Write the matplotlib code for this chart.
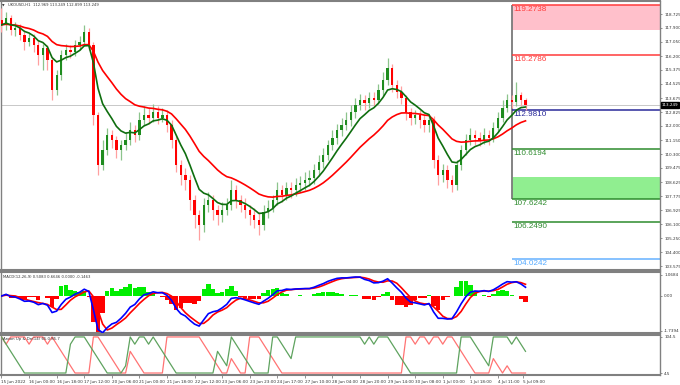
import numpy as np
import pandas as pd
import matplotlib
matplotlib.use("Agg")
import matplotlib.pyplot as plt
from matplotlib.patches import Rectangle
import matplotlib.transforms as mtransforms

# ---------------- data (3-hour resampled view of the H1 chart) ----------------
first_open = 118.37
closes = [118.07,118.49,117.77,117.89,117.47,117.05,117.29,116.87,116.27,116.69,
          115.97,114.17,115.07,116.27,116.57,116.45,116.87,117.05,117.65,116.87,
          112.67,109.67,110.57,111.47,111.17,110.57,110.87,111.17,111.77,111.47,
          112.37,112.67,112.49,112.85,112.49,112.67,112.07,111.17,109.67,109.07,
          108.77,107.57,106.67,106.07,107.27,107.57,106.97,106.67,106.97,107.27,
          108.17,107.57,107.27,106.97,106.67,106.37,106.07,106.85,107.09,107.57,
          108.17,107.87,108.29,108.17,108.47,108.59,108.77,108.89,109.37,109.85,
          110.27,110.87,111.29,111.77,112.07,112.37,112.85,113.27,113.57,113.39,
          113.69,113.57,114.17,114.77,115.49,114.47,114.05,113.69,112.85,112.49,
          112.67,112.37,112.07,112.37,109.97,109.07,109.37,108.77,108.47,109.67,
          110.57,111.17,111.47,111.29,111.17,111.47,111.29,111.89,112.49,113.09,
          113.57,113.45,113.87,113.57,113.25]
highs = [119.09,118.85,118.67,118.25,118.13,117.77,117.59,117.53,117.17,116.93,
         116.87,116.09,115.37,116.57,116.93,116.87,117.17,117.41,118.07,117.89,
         117.05,112.85,111.17,111.89,111.77,111.41,111.17,111.65,112.25,112.07,
         112.85,113.21,113.09,113.33,113.21,113.09,112.97,112.37,111.47,109.97,
         109.49,109.07,107.87,106.97,107.69,108.05,107.87,107.27,107.45,107.69,
         108.77,108.47,107.87,107.69,107.27,107.09,106.85,107.27,107.57,107.87,
         108.65,108.47,108.65,108.65,108.89,109.01,109.25,109.37,109.73,110.27,
         110.69,111.17,111.77,112.13,112.49,112.85,113.27,113.69,113.93,113.87,
         114.05,114.05,114.53,115.25,116.09,115.73,114.77,114.41,113.87,113.09,
         112.97,112.97,112.73,112.67,112.61,110.27,109.73,109.67,109.07,109.97,
         110.87,111.53,111.89,111.77,111.65,111.89,111.77,112.25,112.85,113.57,
         113.93,113.87,114.65,114.05,113.69]
lows = [117.65,117.77,117.47,117.41,117.17,116.57,116.81,116.45,115.67,115.37,
        115.37,113.57,113.87,114.77,115.97,116.09,116.21,116.57,116.81,116.57,
        112.07,109.07,109.37,110.27,110.69,110.09,109.97,110.57,110.87,111.05,
        111.17,112.07,112.13,112.25,112.13,112.25,111.65,110.69,109.25,108.47,
        108.17,106.97,105.89,105.17,105.65,106.85,106.37,106.07,106.25,106.67,
        106.97,107.09,106.85,106.49,106.07,105.89,105.47,105.77,106.49,106.85,
        107.27,107.45,107.57,107.69,107.81,108.05,108.17,108.41,108.53,109.01,
        109.49,109.97,110.57,110.93,111.41,111.77,112.01,112.49,112.97,112.97,
        113.09,113.21,113.33,113.81,114.47,114.05,113.69,113.33,112.37,112.07,
        112.13,111.89,111.65,111.65,109.49,108.47,108.65,108.29,108.05,108.17,
        109.37,110.27,110.87,110.87,110.81,110.93,110.87,111.05,111.65,112.25,
        112.85,113.09,113.21,113.21,112.97]

# horizontal levels drawn on the chart
level_values = [119.2738, 116.2786, 112.9810, 110.6194, 107.6242, 106.2490, 104.0242]
level_colors = ["#ff3b3b", "#ff3b3b", "#2a2a9a", "#2e8b2e", "#2e8b2e", "#2e8b2e", "#66b2ff"]
text_colors  = ["#ff3b3b", "#ff3b3b", "#2a2a9a", "#2e8b2e", "#2e8b2e", "#2e8b2e", "#55aaff"]
sell_zone = (117.78, 119.2738)
buy_zone = (107.6242, 108.95)
current_price = 113.249

price_ticks = [118.725, 117.900, 117.050, 116.200, 115.375, 114.525, 113.675, 112.825,
               112.000, 111.150, 110.300, 109.475, 108.625, 107.775, 106.925, 106.100,
               105.250, 104.400, 103.575]
date_tick_bars = [0, 6, 12, 18, 24, 30, 36, 42, 48, 54, 60, 66, 72, 78, 84, 90, 96, 102, 108, 113.5]
date_labels = ["15 Jun 2022", "16 Jun 00:00", "16 Jun 18:00", "17 Jun 12:00", "20 Jun 06:00",
               "21 Jun 00:00", "21 Jun 18:00", "22 Jun 12:00", "23 Jun 06:00", "23 Jun 23:00",
               "24 Jun 17:00", "27 Jun 10:00", "28 Jun 04:00", "28 Jun 20:00", "29 Jun 14:00",
               "30 Jun 08:00", "1 Jul 00:00", "1 Jul 18:00", "4 Jul 11:00", "5 Jul 09:00"]
macd_range = (-1.7394, 1.0684)
aroon_range = (4.5, 104.5)

# ---------------- derived series ----------------
closes_s = pd.Series(closes)
opens = [first_open] + closes[:-1]
n = len(closes)
x = np.arange(n)

ma_fast = closes_s.ewm(span=7, adjust=False).mean()
ma_slow = closes_s.ewm(span=20, adjust=False).mean()

macd_main = closes_s.ewm(span=4, adjust=False).mean() - closes_s.ewm(span=9, adjust=False).mean()
macd_sig = macd_main.rolling(3, min_periods=1).mean()
macd_hist = 2.0 * (macd_main - macd_sig)

period = 5
hs = pd.Series(highs); ls = pd.Series(lows)
aroon_up = hs.rolling(period + 1, min_periods=1).apply(lambda a: 100.0 * (period - (len(a) - 1 - np.argmax(a))) / period, raw=True)
aroon_dn = ls.rolling(period + 1, min_periods=1).apply(lambda a: 100.0 * (period - (len(a) - 1 - np.argmin(a))) / period, raw=True)

# ---------------- layout ----------------
W, H = 680, 385
fig = plt.figure(figsize=(W / 100, H / 100), dpi=100)
fig.patch.set_facecolor("white")

def rect(x0, y0, x1, y1):
    return [x0 / W, 1 - y1 / H, (x1 - x0) / W, (y1 - y0) / H]

RIGHT = 660
ax = fig.add_axes(rect(0.5, 1, RIGHT, 270))
axm = fig.add_axes(rect(0.5, 271.5, RIGHT, 333), sharex=ax)
axa = fig.add_axes(rect(0.5, 334.5, RIGHT, 375), sharex=ax)

bar_px = 4.6
xmin = -1 / bar_px
xmax = (RIGHT - 1) / bar_px
level_start = (512 - 1) / bar_px

for a in (ax, axm, axa):
    a.set_facecolor("white")
    for s in a.spines.values():
        s.set_color("#808080")
        s.set_linewidth(1.0)
    a.spines["bottom"].set_linewidth(1.5)
    a.spines["top"].set_linewidth(1.5)
    a.set_xlim(xmin, xmax)
    a.tick_params(axis="x", which="both", bottom=False, labelbottom=False)
    a.yaxis.tick_right()
    a.tick_params(axis="y", direction="out", length=1.5, width=0.6, color="#808080",
                  labelsize=3.0, pad=1.5, labelcolor="#333333")

# ---- main price panel ----
ax.set_ylim(103.347, 119.506)
ax.set_yticks(price_ticks)
ax.set_yticklabels([f"{v:.3f}" for v in price_ticks])

ax.axhline(current_price, color="#c8c8c8", lw=0.7, zorder=1)

ax.add_patch(Rectangle((level_start, sell_zone[0]), xmax - level_start, sell_zone[1] - sell_zone[0],
                       facecolor="#ffc0cb", edgecolor="none", zorder=1))
ax.add_patch(Rectangle((level_start, buy_zone[0]), xmax - level_start, buy_zone[1] - buy_zone[0],
                       facecolor="#90ee90", edgecolor="none", zorder=1))
ax.vlines(level_start, buy_zone[0], sell_zone[1], color="#7a7a7a", lw=1.3, zorder=2)

txt_off = mtransforms.offset_copy(ax.transData, fig=fig, x=1.5, y=-1.5, units="dots")
for v, lc, tc in zip(level_values, level_colors, text_colors):
    ax.hlines(v, level_start, xmax, color=lc, lw=1.1, zorder=2)
    ax.text(level_start, v, f"{v:.4f}", color=tc, fontsize=5.9, va="top", ha="left",
            family=["Liberation Sans", "DejaVu Sans"], transform=txt_off, zorder=5)

# candles
up = np.array(closes) >= np.array(opens)
wick_cols = np.where(up, "#8cc48c", "#ffa0a0")
body_cols = np.where(up, "#1e8c1e", "#ff0000")
ax.vlines(x, lows, highs, colors=wick_cols, lw=0.9, zorder=3)
body_bottom = np.minimum(opens, closes)
body_h = np.maximum(np.abs(np.array(closes) - np.array(opens)), 0.03)
ax.bar(x, body_h, bottom=body_bottom, width=0.5, color=body_cols, edgecolor="none", zorder=4)

ax.plot(x, ma_slow, color="#ff0000", lw=1.2, zorder=6)
ax.plot(x, ma_fast, color="#0f6e0f", lw=1.2, zorder=6)

ax.text(0.003, 0.99, "\u25bc", transform=ax.transAxes, fontsize=2.4, va="top", ha="left", color="#333333")
ax.text(0.011, 0.993, "UKOUSD,H1  112.969 113.249 112.899 113.249", transform=ax.transAxes,
        fontsize=2.7, va="top", ha="left", color="#333333")

# current price marker on the axis
ax.text(1.003, current_price, f"{current_price:.3f}", transform=ax.get_yaxis_transform(),
        fontsize=3.0, color="white", va="center", ha="left",
        bbox=dict(boxstyle="square,pad=0.2", facecolor="black", edgecolor="black"))

# ---- MACD panel ----
axm.set_ylim(-1.839, 1.2175)
axm.set_yticks([macd_range[1], 0.0, macd_range[0]])
axm.set_yticklabels([f"{macd_range[1]:.4f}", "0.00", f"{macd_range[0]:.4f}"])
hist_cols = np.where(macd_hist >= 0, "#00ee00", "#ff0000")
axm.bar(x, macd_hist, width=0.95, color=hist_cols, edgecolor="none", zorder=2)
axm.plot(x, macd_sig, color="#ff0000", lw=1.2, zorder=3)
axm.plot(x, macd_main, color="#0000ff", lw=1.2, zorder=4)
axm.text(0.004, 0.95, "MACD(12,26,9) 0.5083 0.6646 0.0000 -0.1463", transform=axm.transAxes,
         fontsize=2.7, va="top", ha="left", color="#333333")

# ---- Aroon panel ----
axa.set_ylim(-5.5, 106.8)
axa.set_yticks([100, 0])
axa.set_yticklabels([f"{aroon_range[1]:.1f}", f"{aroon_range[0]:.1f}"])
axa.plot(x, aroon_dn, color="#ff7373", lw=0.9, zorder=3)
axa.plot(x, aroon_up, color="#5fa35f", lw=0.9, zorder=3)
axa.text(0.004, 0.95, "Aroon Up & Dn(14) 65.0 85.7", transform=axa.transAxes,
         fontsize=2.8, va="top", ha="left", color="#333333")

axa.tick_params(axis="x", bottom=True, labelbottom=True, direction="out", length=2,
                width=0.6, color="#808080", labelsize=3.0, pad=1.5, labelcolor="#333333")
axa.set_xticks(date_tick_bars)
axa.set_xticklabels(date_labels, ha="left")

fig.savefig("out.png", dpi=100, facecolor="white")
